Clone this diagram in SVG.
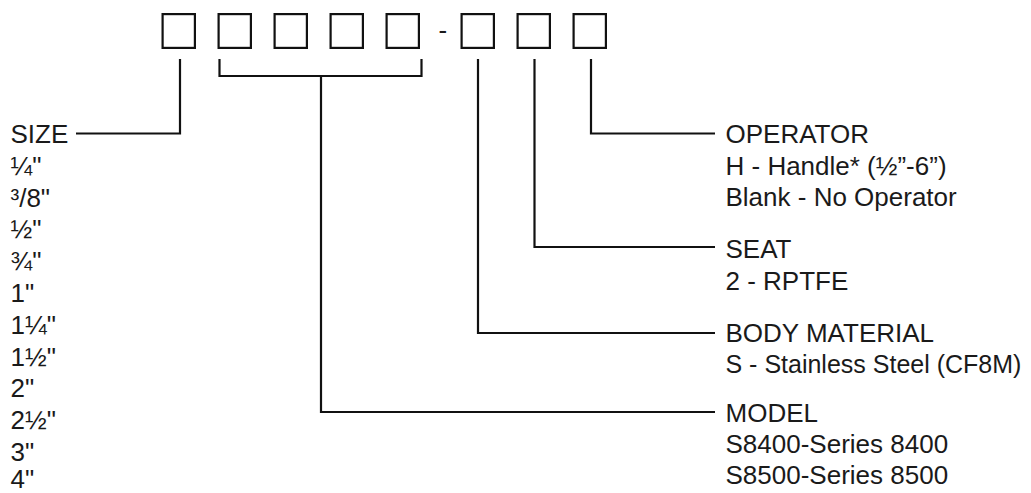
<svg xmlns="http://www.w3.org/2000/svg" width="1031" height="493" viewBox="0 0 1031 493">
  <style>
    .box { fill: none; stroke: #111; stroke-width: 2.2; }
    .conn { fill: none; stroke: #111; stroke-width: 2.2; stroke-linejoin: miter; }
    text { font-family: "Liberation Sans", Arial, sans-serif; font-size: 26px; fill: #1a1a1a; }
  </style>
  <rect width="1031" height="493" fill="#ffffff"/>
  <g id="code">
    <rect class="box" x="162.6" y="14.1" width="32.3" height="33.8"/>
    <rect class="box" x="218.6" y="14.1" width="32.3" height="33.8"/>
    <rect class="box" x="274.6" y="14.1" width="32.3" height="33.8"/>
    <rect class="box" x="330.6" y="14.1" width="32.3" height="33.8"/>
    <rect class="box" x="386.6" y="14.1" width="32.3" height="33.8"/>
    <text x="438.5" y="38.5">-</text>
    <rect class="box" x="461.6" y="14.1" width="32.3" height="33.8"/>
    <rect class="box" x="517.6" y="14.1" width="32.3" height="33.8"/>
    <rect class="box" x="573.6" y="14.1" width="32.3" height="33.8"/>
  </g>
  <g id="connectors">
    <path class="conn" d="M180,59 V133.5 H76"/>
    <path class="conn" d="M219.5,59 V76 H421.5 V59"/>
    <path class="conn" d="M321,76 V412 H715"/>
    <path class="conn" d="M478,59 V333 H715"/>
    <path class="conn" d="M534.5,59 V247 H715"/>
    <path class="conn" d="M591,59 V133.5 H715"/>
  </g>
  <g id="size">
    <text x="10.5" y="143">SIZE</text>
    <text x="10.5" y="174.8">¼"</text>
    <text x="10.5" y="206.6">³/8"</text>
    <text x="10.5" y="238.4">½"</text>
    <text x="10.5" y="270.2">¾"</text>
    <text x="10.5" y="302">1"</text>
    <text x="10.5" y="333.8">1¼"</text>
    <text x="10.5" y="365.6">1½"</text>
    <text x="10.5" y="397.4">2"</text>
    <text x="10.5" y="429.2">2½"</text>
    <text x="10.5" y="460.5">3"</text>
    <text x="10.5" y="488">4"</text>
  </g>
  <g id="operator">
    <text x="725.5" y="143">OPERATOR</text>
    <text x="725.5" y="174.5">H - Handle* (½”-6”)</text>
    <text x="725.5" y="205.5">Blank - No Operator</text>
  </g>
  <g id="seat">
    <text x="725.5" y="258">SEAT</text>
    <text x="725.5" y="289.5">2 - RPTFE</text>
  </g>
  <g id="body-material">
    <text x="725.5" y="342">BODY MATERIAL</text>
    <text x="725.5" y="373" style="font-size:25px">S - Stainless Steel (CF8M)</text>
  </g>
  <g id="model">
    <text x="725.5" y="422">MODEL</text>
    <text x="725.5" y="453">S8400-Series 8400</text>
    <text x="725.5" y="484">S8500-Series 8500</text>
  </g>
</svg>
